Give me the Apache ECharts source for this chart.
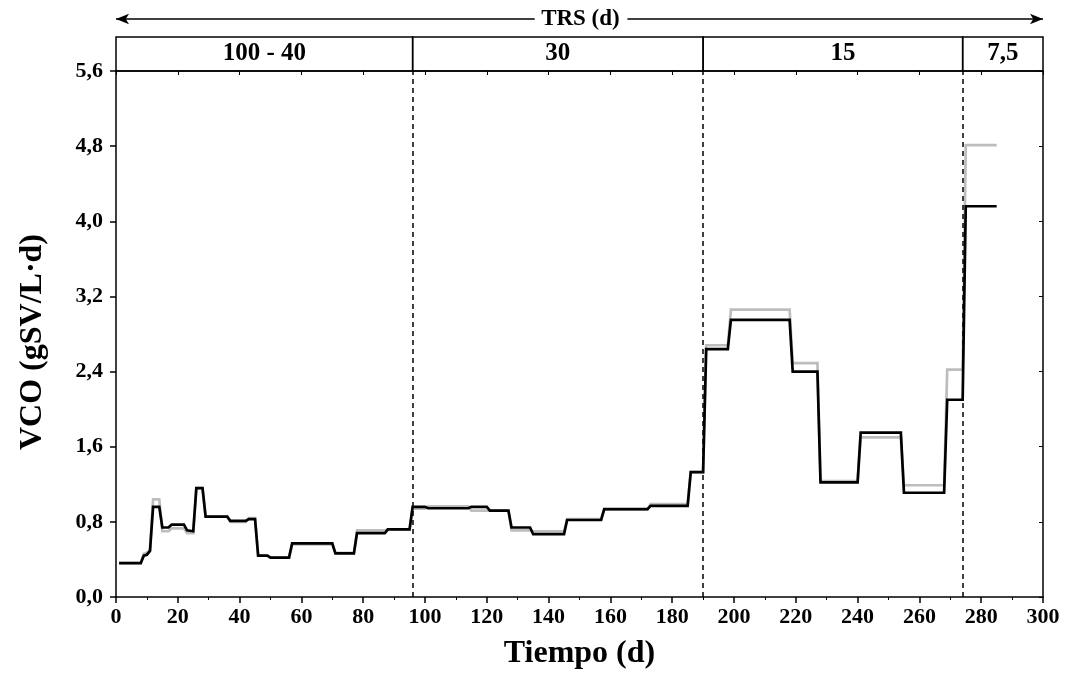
<!DOCTYPE html>
<html>
<head>
<meta charset="utf-8">
<script src="https://cdn.jsdelivr.net/npm/echarts@6/dist/echarts.min.js"></script>
<style>
  html, body { margin: 0; padding: 0; background: #fff; }
  #chart { width: 1065px; height: 694px; }
</style>
</head>
<body>
<div id="chart"></div>
<script>
// ---- data ----
const dayBlack = [1, 8, 9, 10, 11, 12, 14, 15, 17, 18, 22, 23, 25, 26, 28, 29, 36, 37, 42, 43, 45, 46, 49, 50, 56, 57, 70, 71, 77, 78, 87, 88, 95, 96, 100, 101, 114, 115, 120, 121, 127, 128, 134, 135, 145, 146, 157, 158, 172, 173, 185, 186, 190, 191, 198, 199, 218, 219, 227, 228, 240, 241, 254, 255, 268, 269, 274, 275, 285];
const vcoBlack = [0.36, 0.36, 0.44, 0.45, 0.49, 0.96, 0.96, 0.74, 0.74, 0.77, 0.77, 0.71, 0.70, 1.16, 1.16, 0.855, 0.855, 0.81, 0.81, 0.83, 0.83, 0.44, 0.44, 0.42, 0.42, 0.57, 0.57, 0.465, 0.465, 0.68, 0.68, 0.72, 0.72, 0.96, 0.96, 0.945, 0.945, 0.96, 0.96, 0.92, 0.92, 0.74, 0.74, 0.67, 0.67, 0.82, 0.82, 0.935, 0.935, 0.97, 0.97, 1.33, 1.33, 2.64, 2.64, 2.95, 2.95, 2.40, 2.40, 1.22, 1.22, 1.75, 1.75, 1.11, 1.11, 2.10, 2.10, 4.16, 4.16];

const dayGray = [1, 8, 9, 10, 11, 12, 14, 15, 17, 18, 22, 23, 25, 26, 28, 29, 36, 37, 42, 43, 45, 46, 49, 50, 56, 57, 70, 71, 77, 78, 87, 88, 95, 96, 100, 101, 114, 115, 120, 121, 127, 128, 134, 135, 145, 146, 157, 158, 172, 173, 185, 186, 190, 191, 198, 199, 218, 219, 227, 228, 240, 241, 254, 255, 268, 269, 274, 275, 285];
const vcoGray = [0.36, 0.36, 0.46, 0.47, 0.50, 1.04, 1.04, 0.70, 0.70, 0.73, 0.73, 0.68, 0.68, 1.16, 1.16, 0.855, 0.855, 0.80, 0.80, 0.84, 0.84, 0.44, 0.44, 0.42, 0.42, 0.56, 0.56, 0.47, 0.47, 0.71, 0.71, 0.72, 0.72, 0.94, 0.94, 0.965, 0.965, 0.92, 0.92, 0.92, 0.92, 0.71, 0.71, 0.70, 0.70, 0.83, 0.83, 0.93, 0.93, 0.99, 0.99, 1.33, 1.33, 2.68, 2.68, 3.06, 3.06, 2.49, 2.49, 1.235, 1.235, 1.70, 1.70, 1.19, 1.19, 2.42, 2.42, 4.81, 4.81];

// TRS phase boundaries (days) and labels
const phaseBounds = [0, 96, 190, 274, 300];
const phaseLabels = ['100 - 40', '30', '15', '7,5'];

const xTicks = { min: 0, max: 300, interval: 20 };
const yTicks = { min: 0, max: 5.6, interval: 0.8 };

const titleX = 'Tiempo (d)';
const titleY = 'VCO (gSV/L·d)';
const titleTop = 'TRS (d)';

// ---- chart ----
const FONT = '"Liberation Serif", "Times New Roman", serif';
const zip = (xs, ys) => xs.map((x, i) => [x, ys[i]]);

const chart = echarts.init(document.getElementById('chart'), null, { renderer: 'canvas' });

const L = 116, R = 22;

const labelShift = [0, 0, 10, 0];
const phaseAreas = [];
for (let i = 0; i < phaseLabels.length; i++) {
  phaseAreas.push([
    { xAxis: phaseBounds[i], yAxis: 0, name: phaseLabels[i], label: { offset: [labelShift[i], 0] } },
    { xAxis: phaseBounds[i + 1], yAxis: 1 }
  ]);
}
const dividerLines = phaseBounds.slice(1, -1).map(d => ({ xAxis: d }));

const option = {
  backgroundColor: '#fff',
  animation: false,
  grid: [
    { left: L, right: R, top: 71, bottom: 97 },          // main plot
    { left: L, right: R, top: 37, height: 34 },          // TRS header box
    { left: L, right: R, top: 10, height: 18 }           // arrow row
  ],
  xAxis: [
    {
      gridIndex: 0, type: 'value', min: xTicks.min, max: xTicks.max, interval: xTicks.interval,
      name: titleX, nameLocation: 'middle', nameGap: 41,
      nameTextStyle: { fontFamily: FONT, fontWeight: 'bold', fontSize: 32, color: '#000' },
      axisLine: { show: true, onZero: false, lineStyle: { color: '#000', width: 1.5 } },
      axisTick: { show: true, length: 6, lineStyle: { color: '#000', width: 1.5 } },
      minorTick: { show: true, splitNumber: 2, length: 3, lineStyle: { color: '#000', width: 1 } },
      axisLabel: { fontFamily: FONT, fontWeight: 'bold', fontSize: 22, color: '#000', margin: 9 },
      splitLine: { show: false }
    },
    {
      gridIndex: 0, type: 'value', position: 'top', min: xTicks.min, max: xTicks.max, interval: xTicks.interval,
      axisLine: { show: true, onZero: false, lineStyle: { color: '#000', width: 1.5 } },
      axisTick: { show: true, inside: true, length: 4, lineStyle: { color: '#000', width: 1 } },
      axisLabel: { show: false }, splitLine: { show: false }
    },
    { gridIndex: 1, type: 'value', min: xTicks.min, max: xTicks.max, show: false },
    { gridIndex: 2, type: 'value', min: xTicks.min, max: xTicks.max, show: false }
  ],
  yAxis: [
    {
      gridIndex: 0, type: 'value', min: yTicks.min, max: yTicks.max, interval: yTicks.interval,
      name: titleY, nameLocation: 'middle', nameGap: 67, nameRotate: 90,
      nameTextStyle: {
        fontFamily: FONT, fontWeight: 'bold', fontSize: 32, color: '#000',
        padding: [0, 16, 0, 0]
      },
      axisLine: { show: true, onZero: false, lineStyle: { color: '#000', width: 1.5 } },
      axisTick: { show: true, length: 6, lineStyle: { color: '#000', width: 1.5 } },
      axisLabel: {
        fontFamily: FONT, fontWeight: 'bold', fontSize: 22, color: '#000', margin: 13,
        formatter: v => v.toFixed(1).replace('.', ',')
      },
      splitLine: { show: false }
    },
    {
      gridIndex: 0, type: 'value', position: 'right', min: yTicks.min, max: yTicks.max, interval: yTicks.interval,
      axisLine: { show: true, onZero: false, lineStyle: { color: '#000', width: 1.5 } },
      axisTick: { show: true, inside: true, length: 4, lineStyle: { color: '#000', width: 1 } },
      axisLabel: { show: false }, splitLine: { show: false }
    },
    { gridIndex: 1, type: 'value', min: 0, max: 1, show: false },
    { gridIndex: 2, type: 'value', min: 0, max: 1, show: false }
  ],
  series: [
    {
      type: 'line', xAxisIndex: 0, yAxisIndex: 0, data: zip(dayGray, vcoGray),
      showSymbol: false, symbol: 'none', z: 2,
      lineStyle: { color: '#bdbdbd', width: 2.7, join: 'miter' }
    },
    {
      type: 'line', xAxisIndex: 0, yAxisIndex: 0, data: zip(dayBlack, vcoBlack),
      showSymbol: false, symbol: 'none', z: 3,
      lineStyle: { color: '#000', width: 2.7, join: 'miter' },
      markLine: {
        silent: true, symbol: ['none', 'none'], label: { show: false },
        lineStyle: { color: '#000', width: 1.5, type: [5, 4] },
        data: dividerLines
      }
    },
    {
      type: 'line', xAxisIndex: 2, yAxisIndex: 2, data: [[0, 0]],
      showSymbol: false, symbol: 'none', lineStyle: { opacity: 0 },
      markArea: {
        silent: true,
        itemStyle: { color: 'rgba(0,0,0,0)', borderColor: '#000', borderWidth: 1.5 },
        label: {
          show: true, position: 'inside', fontFamily: FONT, fontWeight: 'bold', fontSize: 25, color: '#000'
        },
        data: phaseAreas
      }
    },
    {
      type: 'line', xAxisIndex: 3, yAxisIndex: 3, data: [[0, 0]],
      showSymbol: false, symbol: 'none', lineStyle: { opacity: 0 },
      markLine: {
        silent: true, label: { show: false },
        lineStyle: { color: '#000', width: 1.5, type: 'solid' },
        symbolSize: [8, 13],
        data: [
          [{ coord: [0, 0.5], symbol: 'arrow' }, { coord: [135.5, 0.5], symbol: 'none' }],
          [{ coord: [165.5, 0.5], symbol: 'none' }, { coord: [300, 0.5], symbol: 'arrow' }]
        ]
      },
      markPoint: {
        silent: true, symbol: 'circle', symbolSize: 1, itemStyle: { color: 'rgba(0,0,0,0)' },
        label: {
          show: true, position: 'inside', formatter: '{b}',
          fontFamily: FONT, fontWeight: 'bold', fontSize: 23, color: '#000'
        },
        data: [{ name: titleTop, coord: [150.3, 0.5] }]
      }
    }
  ]
};

chart.setOption(option);
</script>
</body>
</html>
